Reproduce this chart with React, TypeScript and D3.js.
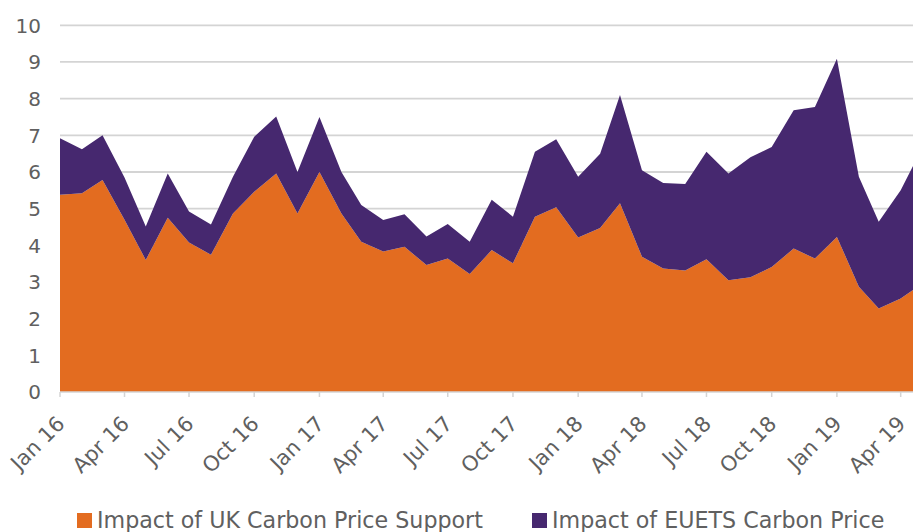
import React from "react";
import * as d3 from "d3";

// Monthly observations, Jan 2016 .. May 2019
const months: string[] = [
  "2016-01", "2016-02", "2016-03", "2016-04", "2016-05", "2016-06", "2016-07", "2016-08", "2016-09", "2016-10", "2016-11", "2016-12",
  "2017-01", "2017-02", "2017-03", "2017-04", "2017-05", "2017-06", "2017-07", "2017-08", "2017-09", "2017-10", "2017-11", "2017-12",
  "2018-01", "2018-02", "2018-03", "2018-04", "2018-05", "2018-06", "2018-07", "2018-08", "2018-09", "2018-10", "2018-11", "2018-12",
  "2019-01", "2019-02", "2019-03", "2019-04", "2019-05",
];

const ukCarbonPriceSupport: number[] = [
  5.38, 5.42, 5.78, 4.7, 3.6, 4.75, 4.08, 3.74, 4.87, 5.46, 5.96, 4.87,
  6.0, 4.87, 4.1, 3.83, 3.96, 3.46, 3.64, 3.22, 3.87, 3.51, 4.78, 5.04,
  4.21, 4.47, 5.15, 3.69, 3.37, 3.31, 3.62, 3.05, 3.13, 3.41, 3.91, 3.64,
  4.23, 2.87, 2.28, 2.55, 2.95,
];

const euetsCarbonPrice: number[] = [
  1.54, 1.2, 1.22, 1.15, 0.91, 1.21, 0.84, 0.83, 1.0, 1.5, 1.55, 1.13,
  1.5, 1.13, 1.0, 0.86, 0.89, 0.78, 0.94, 0.88, 1.37, 1.27, 1.77, 1.85,
  1.66, 2.03, 2.95, 2.36, 2.33, 2.36, 2.93, 2.91, 3.27, 3.27, 3.77, 4.13,
  4.86, 3.0, 2.36, 2.95, 3.7,
];

const seriesNames: string[] = ["Impact of UK Carbon Price Support", "Impact of EUETS Carbon Price"];
const seriesColors: string[] = ["#E36C20", "#46286F"];

const yTicks: number[] = [0, 1, 2, 3, 4, 5, 6, 7, 8, 9, 10];
const xTickMonths: string[] = [
  "2016-01", "2016-04", "2016-07", "2016-10", "2017-01", "2017-04", "2017-07", "2017-10",
  "2018-01", "2018-04", "2018-07", "2018-10", "2019-01", "2019-04",
];

const W = 913;
const H = 532;
const FONT = "'DejaVu Sans', Verdana, sans-serif";

const parse = d3.timeParse("%Y-%m");
const fmt = d3.timeFormat("%b %y");

export default function App() {
  const rows = months.map((m, i) => ({
    date: parse(m) as Date,
    uk: ukCarbonPriceSupport[i],
    eu: euetsCarbonPrice[i],
  }));

  const x = d3
    .scaleTime()
    .domain([parse("2016-01") as Date, parse("2019-04") as Date])
    .range([60, 900.7]);
  const y = d3.scaleLinear().domain([0, 10]).range([392, 25.3]);

  const stack = d3.stack<any>().keys(["uk", "eu"]);
  const layers = stack(rows);

  const area = d3
    .area<any>()
    .x((d) => x(d.data.date))
    .y0((d) => y(d[0]))
    .y1((d) => y(d[1]));

  const xTicks = xTickMonths.map((m) => parse(m) as Date);

  return (
    <svg
      width={W}
      height={H}
      style={{ position: "absolute", left: 0, top: 0, background: "#fff" }}
    >
      <defs>
        <clipPath id="plot">
          <rect x={60} y={0} width={W - 60} height={393} />
        </clipPath>
      </defs>
      {/* gridlines */}
      {yTicks.slice(1).map((t) => (
        <line key={t} x1={60} x2={W} y1={y(t)} y2={y(t)} stroke="#d4d4d4" strokeWidth={1.8} />
      ))}
      {/* areas */}
      <g clipPath="url(#plot)">
        {layers.map((layer, i) => (
          <path key={i} d={area(layer) || ""} fill={seriesColors[i]} />
        ))}
      </g>
      {/* x axis line and ticks */}
      <line x1={60} x2={W} y1={y(0)} y2={y(0)} stroke="#d4d4d4" strokeWidth={1.5} />
      {xTicks.map((t, i) => (
        <line key={i} x1={x(t)} x2={x(t)} y1={y(0)} y2={y(0) + 5} stroke="#d4d4d4" strokeWidth={1.5} />
      ))}
      {/* y labels */}
      {yTicks.map((t) => (
        <text
          key={t}
          x={41}
          y={y(t)}
          dy="0.36em"
          textAnchor="end"
          fontFamily={FONT}
          fontSize={20}
          fill="#606060"
        >
          {t}
        </text>
      ))}
      {/* x labels */}
      {xTicks.map((t, i) => (
        <text
          key={i}
          transform={`translate(${x(t) + 6},${425}) rotate(-45)`}
          textAnchor="end"
          fontFamily={FONT}
          fontSize={21}
          fill="#606060"
        >
          {fmt(t)}
        </text>
      ))}
      {/* legend */}
      {[77, 532].map((lx, i) => (
        <g key={i}>
          <rect x={lx} y={513} width={15} height={15} fill={seriesColors[i]} />
          <text x={lx + 20} y={528} fontFamily={FONT} fontSize={22.2} fill="#606060">
            {seriesNames[i]}
          </text>
        </g>
      ))}
    </svg>
  );
}
